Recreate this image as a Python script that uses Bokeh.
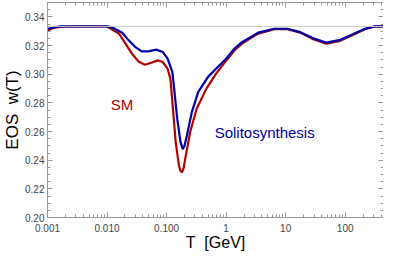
from bokeh.plotting import figure
from bokeh.models import (LogAxis, LinearAxis, FixedTicker, SingleIntervalTicker,
                          Span, Label, PrintfTickFormatter)
from bokeh.embed import file_html
from bokeh.resources import INLINE

# ---- data ----
T_sm = [0.001, 0.00125, 0.0017, 0.003, 0.006, 0.0095, 0.0109, 0.0159, 0.0204, 0.0262,
        0.0337, 0.0433, 0.0555, 0.0713, 0.0861, 0.104, 0.116, 0.130, 0.142, 0.161,
        0.170, 0.182, 0.193, 0.206, 0.249, 0.321, 0.467, 0.679, 1.0, 1.35, 1.85, 3.45,
        6.47, 10.7, 17.6, 29.1, 47.9, 79.2, 131, 215, 313, 480]
w_sm = [0.3303, 0.3322, 0.3332, 0.3333, 0.3333, 0.3333, 0.3324, 0.3283, 0.3213, 0.3143,
        0.3089, 0.3066, 0.3080, 0.3096, 0.3085, 0.3038, 0.2969, 0.2725, 0.2528, 0.2365,
        0.2328, 0.2314, 0.2345, 0.2411, 0.2597, 0.2760, 0.2899, 0.3004, 0.3094, 0.3162, 0.3213, 0.3283,
        0.3314, 0.3314, 0.3290, 0.3244, 0.3213, 0.3230, 0.3272, 0.3314, 0.3333, 0.3333]

T_ss = [0.001, 0.00125, 0.0017, 0.003, 0.006, 0.0105, 0.0123, 0.0180, 0.0231, 0.0297,
        0.0381, 0.0490, 0.0669, 0.0861, 0.104, 0.125, 0.134, 0.151, 0.171, 0.187,
        0.200, 0.220, 0.266, 0.341, 0.497, 0.724, 1.0, 1.35, 1.85, 3.45, 6.47, 10.7,
        17.6, 29.1, 47.9, 79.2, 131, 215, 313, 480]
w_ss = [0.3315, 0.3327, 0.3333, 0.3333, 0.3333, 0.3333, 0.3325, 0.3289, 0.3236, 0.3190,
        0.3159, 0.3159, 0.3171, 0.3155, 0.3108, 0.3016, 0.2899, 0.2690, 0.2528, 0.2477,
        0.2500, 0.2574, 0.2737, 0.2876, 0.2981, 0.3050, 0.3108, 0.3175, 0.3223, 0.3290, 0.3317, 0.3317,
        0.3293, 0.3251, 0.3220, 0.3237, 0.3276, 0.3317, 0.3333, 0.3333]

w_radiation = 1.0 / 3.0

x_ticks = [0.001, 0.01, 0.1, 1, 10, 100]
x_tick_labels = ["0.001", "0.010", "0.100", "1", "10", "100"]
x_minor = [m * 10.0 ** e for e in range(-3, 3) for m in range(2, 10)]

text_labels = [("SM", 0.0178, 0.2788, "#B00000"),
               ("Solitosynthesis", 4.44, 0.259, "#0000AA")]

x_title = "T\u00a0\u00a0[GeV]"
y_title = "EOS\u00a0\u00a0w(T)"

RED = "#B00000"
BLUE = "#0000AA"
FRAME = "#999999"
FONT = "Liberation Sans"

p = figure(width=383, height=253, x_axis_type="log",
           x_range=(0.001, 440), y_range=(0.20, 0.35),
           output_backend="svg", toolbar_location=None,
           min_border_left=0, min_border_right=0, min_border_top=2, min_border_bottom=0)
p.grid.visible = False
p.outline_line_color = None
p.background_fill_color = "white"
p.border_fill_color = "white"

xt = FixedTicker(ticks=x_ticks, minor_ticks=x_minor)
yt = SingleIntervalTicker(interval=0.02, num_minor_ticks=4)

def style(ax, show_labels):
    ax.axis_line_color = FRAME
    ax.major_tick_line_color = FRAME
    ax.minor_tick_line_color = FRAME
    ax.major_tick_in = 5
    ax.major_tick_out = 0
    ax.minor_tick_in = 3
    ax.minor_tick_out = 0
    if show_labels:
        ax.major_label_text_font = FONT
        ax.major_label_text_font_size = "10px"
        ax.major_label_text_color = "#444444"
        ax.axis_label_text_font = FONT
        ax.axis_label_text_font_style = "normal"
        ax.axis_label_text_color = "black"
    else:
        ax.major_label_text_font_size = "1px"
        ax.major_label_text_alpha = 0
        ax.major_label_standoff = 0

xa = p.xaxis[0]
xa.ticker = xt
xa.major_label_overrides = dict(zip(x_ticks, x_tick_labels))
style(xa, True)
xa.major_label_standoff = 6
xa.axis_label = x_title
xa.axis_label_text_font_size = "16px"
xa.axis_label_standoff = -1

ya = p.yaxis[0]
ya.ticker = yt
ya.formatter = PrintfTickFormatter(format="%.2f")
style(ya, True)
ya.major_label_standoff = 3
ya.axis_label = y_title
ya.axis_label_text_font_size = "17px"
ya.axis_label_standoff = 0

top = LogAxis(ticker=xt)
style(top, False)
p.add_layout(top, "above")
right = LinearAxis(ticker=yt)
style(right, False)
p.add_layout(right, "right")

p.add_layout(Span(location=w_radiation, dimension="width", line_color="#cccccc", line_width=1))

p.line(T_sm, w_sm, line_color=RED, line_width=2.2)
p.line(T_ss, w_ss, line_color=BLUE, line_width=2.2)

for txt, lx, ly, col in text_labels:
    p.add_layout(Label(x=lx, y=ly, text=txt, text_color=col, text_font=FONT,
                       text_font_size="15px", text_align="center", text_baseline="middle"))

open("out.html", "w").write(file_html(p, INLINE))
